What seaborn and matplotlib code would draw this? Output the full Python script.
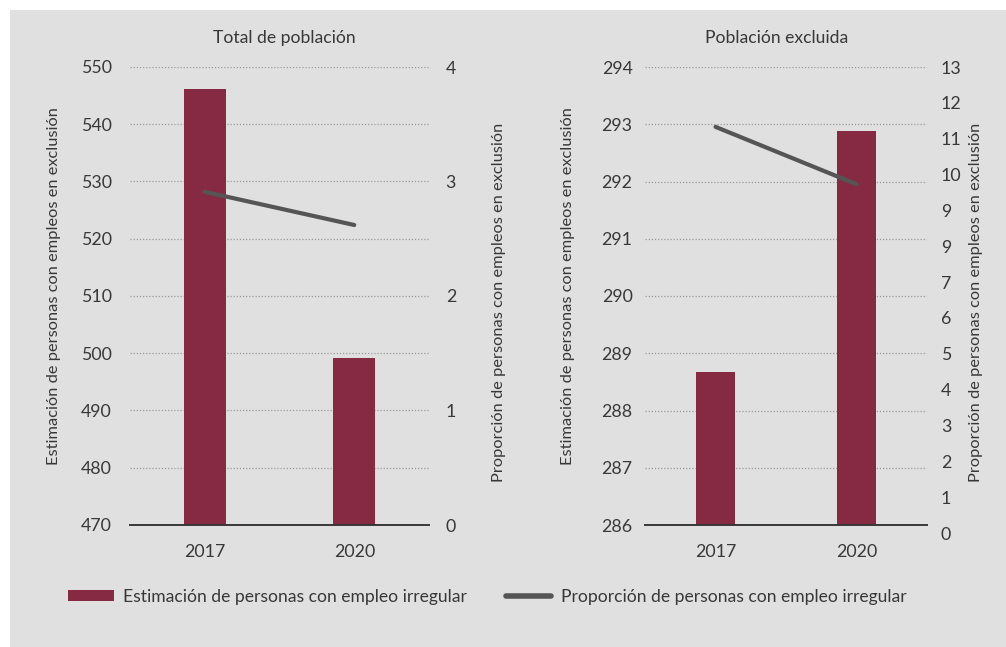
import numpy as np
import pandas as pd
import matplotlib
matplotlib.use("Agg")
import matplotlib.pyplot as plt
import seaborn as sns
from matplotlib.patches import Rectangle, Patch
from matplotlib.lines import Line2D

# ---------------- data ----------------
years = ["2017", "2020"]
total_estimacion = [546.1, 499.2]
total_proporcion = [2.91, 2.62]
excl_estimacion = [288.68, 292.88]
excl_proporcion = [11.33, 9.73]

total_left_ticks = [470, 480, 490, 500, 510, 520, 530, 540, 550]
total_right_ticks = [0, 1, 2, 3, 4]
excl_left_ticks = [286, 287, 288, 289, 290, 291, 292, 293, 294]
excl_right_ticks = list(range(14))
excl_right_labels = ["0", "1", "2", "3", "4", "5", "6", "7", "9", "9", "10", "11", "12", "13"]

titles = ["Total de población", "Población excluida"]
ylabel_left = "Estimación de personas con empleos en exclusión"
ylabel_right = "Proporción de personas con empleos en exclusión"
legend_labels = ["Estimación de personas con empleo irregular",
                 "Proporción de personas con empleo irregular"]

# ---------------- style ----------------
sns.set_theme(style="white")
plt.rcParams["font.family"] = ["Lato", "DejaVu Sans"]
BG = "#e0e0e0"
BAR = "#862a43"
LINE = "#555555"
TXT = "#383838"
GRID = "#9a9a9a"

W, H = 1006, 647
fig = plt.figure(figsize=(W / 100, H / 100), dpi=100)
fig.patch.set_facecolor("white")
fig.patches.append(Rectangle((10 / W, 0), 1 - 10 / W, 1 - 10 / H,
                             transform=fig.transFigure, facecolor=BG,
                             edgecolor="none", zorder=-10))


def fx(px):
    return px / W


def fy(py):
    return 1 - py / H


def style_main(ax, ticks, pad):
    ax.set_facecolor("none")
    for s in ["top", "right", "left"]:
        ax.spines[s].set_visible(False)
    ax.spines["bottom"].set_color(TXT)
    ax.spines["bottom"].set_linewidth(1.4)
    ax.set_yticks(ticks)
    ax.set_ylim(ticks[0], ticks[-1])
    ax.yaxis.grid(True, linestyle=(0, (1, 1.5)), color=GRID, linewidth=0.9)
    ax.set_axisbelow(True)
    ax.tick_params(axis="y", length=0, pad=pad, labelsize=12.8, labelcolor=TXT)
    ax.set_xticks([0, 1])
    ax.set_xticklabels(years)
    ax.set_xticks([-0.5, 0.5, 1.5], minor=True)
    ax.tick_params(axis="x", which="major", length=0, pad=14, labelsize=12.8, labelcolor=TXT)
    ax.tick_params(axis="x", which="minor", length=5, width=1.4, color=TXT, direction="out")
    ax.set_xlim(-0.5, 1.5)
    ax.set_xlabel("")
    ax.set_ylabel("")


def style_twin(ax2, pad):
    ax2.set_facecolor("none")
    for s in ["top", "left", "bottom", "right"]:
        ax2.spines[s].set_visible(False)
    ax2.grid(False)
    ax2.tick_params(axis="y", length=0, pad=pad, labelsize=12.8, labelcolor=TXT,
                    left=False, labelleft=False, right=True, labelright=True)
    ax2.tick_params(axis="x", bottom=False, labelbottom=False)
    ax2.set_xlabel("")
    ax2.set_ylabel("")


# ---------------- left panel ----------------
ax1 = fig.add_axes([fx(130), fy(525), fx(429 - 130), (525 - 67) / H])
df1 = pd.DataFrame({"year": years, "val": total_estimacion})
sns.barplot(data=df1, x="year", y="val", ax=ax1, color=BAR, width=0.28,
            saturation=1, edgecolor="none")
style_main(ax1, total_left_ticks, 13)

ax1b = fig.add_axes(ax1.get_position(), sharex=ax1)
sns.lineplot(x=np.arange(len(years)), y=total_proporcion, ax=ax1b, color=LINE,
             linewidth=3.0, solid_capstyle="round")
ax1b.set_ylim(0, 4)
ax1b.set_yticks(total_right_ticks)
style_twin(ax1b, 12)
ax1b.set_xlim(-0.5, 1.5)

# ---------------- right panel ----------------
ax2 = fig.add_axes([fx(645), fy(525), fx(927 - 645), (525 - 67) / H])
df2 = pd.DataFrame({"year": years, "val": excl_estimacion})
sns.barplot(data=df2, x="year", y="val", ax=ax2, color=BAR, width=0.27,
            saturation=1, edgecolor="none")
style_main(ax2, excl_left_ticks, 9)

ax2b = fig.add_axes([fx(645), fy(533), fx(927 - 645), (533 - 67) / H], sharex=ax2)
sns.lineplot(x=np.arange(len(years)), y=excl_proporcion, ax=ax2b, color=LINE,
             linewidth=3.0, solid_capstyle="round")
ax2b.set_ylim(0, 13)
ax2b.set_yticks(excl_right_ticks)
ax2b.set_yticklabels(excl_right_labels)
style_twin(ax2b, 10)
ax2b.set_xlim(-0.5, 1.5)

# ---------------- titles and axis labels ----------------
fig.text(fx(284), fy(38), titles[0], ha="center", va="center", fontsize=12.6, color=TXT)
fig.text(fx(777), fy(38), titles[1], ha="center", va="center", fontsize=12.6, color=TXT)

for xpx, ypx in [(54, 286), (499, 302), (568, 286), (976, 302)]:
    lab = ylabel_left if xpx in (54, 568) else ylabel_right
    fig.text(fx(xpx), fy(ypx), lab, rotation=90, ha="center", va="center",
             fontsize=11.8, color=TXT)

# ---------------- legend ----------------
handles = [Patch(facecolor=BAR, edgecolor="none"),
           Line2D([0], [0], color=LINE, linewidth=4, solid_capstyle="round")]
fig.legend(handles, legend_labels, loc="center left", bbox_to_anchor=(fx(68), fy(597)),
           ncol=2, frameon=False, fontsize=12.6, handlelength=2.6, handleheight=0.6,
           handletextpad=0.55, columnspacing=2.2, labelcolor=TXT,
           borderpad=0, borderaxespad=0)

fig.savefig("out.png", dpi=100, facecolor=fig.get_facecolor())
